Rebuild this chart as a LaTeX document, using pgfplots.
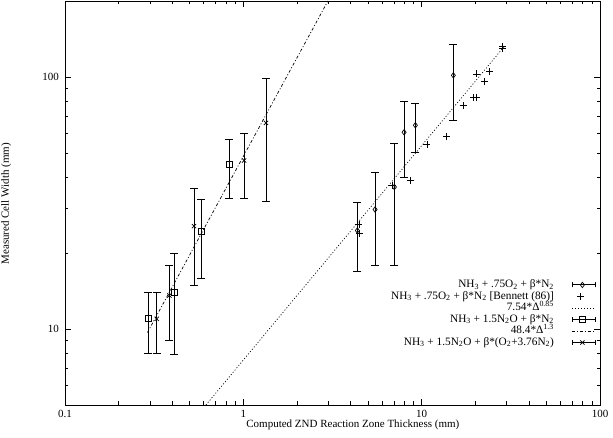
\documentclass[border=0pt]{standalone}
\usepackage{fontspec}
\setmainfont{Liberation Serif}
\usepackage{pgfplots}
\pgfplotsset{compat=1.18}
\usepackage{pgfplotstable}

\pgfplotstableread{
x y ep em
4.36 24.6 7.3 7.6
5.48 29.8 12.1 11.9
7.03 36.6 18.0 18.7
7.97 60.3 19.7 20.4
9.22 64.3 14.5 14.3
15.06 101.4 33.6 34.3
}\sA

\pgfplotstableread{
x y
4.45 26.0
4.48 23.9
6.85 37.1
8.69 38.9
10.7 53.9
13.8 58.0
17.1 76.9
19.5 83.0
20.4 83.0
20.4 102.7
22.5 96.0
24.0 105.0
28.5 132.0
28.5 129.5
}\sB

\pgfplotstableread{
x y ep em
0.293 10.98 3.0 3.0
0.410 13.97 5.9 6.0
0.579 24.5 8.3 8.6
0.835 44.9 11.7 12.0
}\sC

\pgfplotstableread{
x y ep em
0.327 10.98 3.0 3.0
0.385 13.6 4.3 4.6
0.529 25.6 10.4 10.7
1.01 46.6 13.2 13.7
1.34 65.7 33.3 33.6
}\sD

\pgfplotsset{
  ebleg/.style={legend image code/.code={
    \path[draw=none] (0pt,0pt) -- (41pt,0pt);
    \draw[solid,line width=0.8pt] (18pt,0pt) -- (41pt,0pt);
    \draw[solid,line width=0.8pt] (18pt,-2.4pt) -- (18pt,2.4pt) (41pt,-2.4pt) -- (41pt,2.4pt);
    \draw[solid] plot coordinates {(28pt,0pt)};
  }},
  markleg/.style={legend image code/.code={
    \path[draw=none] (0pt,0pt) -- (41pt,0pt);
    \draw[solid] plot coordinates {(26pt,0pt)};
  }},
  lineleg/.style={legend image code/.code={
    \path[draw=none] (0pt,0pt) -- (41pt,0pt);
    \draw (18pt,0pt) -- (41pt,0pt);
  }},
}

\begin{document}
\begin{tikzpicture}
\begin{axis}[
  scale only axis,
  width=535pt, height=404pt,
  xmode=log, ymode=log,
  xmin=0.1, xmax=100, ymin=5, ymax=200,
  xtick={0.1,1,10,100}, xticklabels={0.1,1,10,100},
  ytick={10,100}, yticklabels={10,100},
  minor xtick={0.2,0.3,0.4,0.5,0.6,0.7,0.8,0.9,2,3,4,5,6,7,8,9,20,30,40,50,60,70,80,90},
  minor ytick={6,7,8,9,20,30,40,50,60,70,80,90},
  tick align=inside,
  major tick length=6pt, minor tick length=3.5pt,
  every tick/.style={black, line width=0.6pt},
  axis line style={line width=0.8pt},
  tick label style={font=\fontsize{11}{13}\selectfont},
  xticklabel style={anchor=base, yshift=-13pt},
  yticklabel style={xshift=-2.5pt},
  xlabel={Computed ZND Reaction Zone Thickness (mm)},
  ylabel={Measured Cell Width (mm)},
  label style={font=\fontsize{11}{13}\selectfont},
  xlabel style={at={(axis description cs:0.538,-0.0557)}, anchor=base},
  ylabel style={at={(axis description cs:-0.110,0.498)}, anchor=center, rotate=0},
  legend style={at={(axis description cs:0.9925,0.312)}, anchor=north east,
    draw=none, fill=none, font=\fontsize{11.3}{13}\selectfont,
    inner sep=0pt, row sep=0pt,
    nodes={inner sep=0.5pt, text height=8pt, text depth=2.5pt}},
  legend cell align=right,
  legend plot pos=right,
  error bars/error bar style={line width=0.8pt, solid},
  error bars/error mark options={rotate=90, mark size=4pt, line width=0.8pt, solid},
]
\addplot[black, only marks, mark=diamond, mark size=2.7pt, mark options={line width=0.7pt}, ebleg,
  error bars/.cd, y dir=both, y explicit]
  table[x=x, y=y, y error plus=ep, y error minus=em] {\sA};
\addlegendentry{NH\textsubscript{3} + .75O\textsubscript{2} + β*N\textsubscript{2}}

\addplot[black, only marks, mark=+, mark size=3.5pt, mark options={line width=0.8pt}, markleg] table[x=x,y=y] {\sB};
\addlegendentry{NH\textsubscript{3} + .75O\textsubscript{2} + β*N\textsubscript{2} [Bennett (86)]}

\addplot[black, line width=0.7pt, dash pattern=on 1pt off 2pt, lineleg] coordinates {(0.617,5) (29,131.9)};
\addlegendentry{7.54*Δ\textsuperscript{0.85}}

\addplot[black, only marks, mark=square, mark size=3pt, mark options={line width=0.7pt}, ebleg,
  error bars/.cd, y dir=both, y explicit]
  table[x=x, y=y, y error plus=ep, y error minus=em] {\sC};
\addlegendentry{NH\textsubscript{3} + 1.5N\textsubscript{2}O + β*N\textsubscript{2}}

\addplot[black, line width=0.7pt, dash pattern=on 3pt off 2pt on 1pt off 2pt, lineleg] coordinates {(0.29,9.69) (2.98,200)};
\addlegendentry{48.4*Δ\textsuperscript{1.3}}

\addplot[black, only marks, mark=x, mark size=3pt, mark options={line width=0.7pt}, ebleg,
  error bars/.cd, y dir=both, y explicit]
  table[x=x, y=y, y error plus=ep, y error minus=em] {\sD};
\addlegendentry{NH\textsubscript{3} + 1.5N\textsubscript{2}O + β*(O\textsubscript{2}+3.76N\textsubscript{2})}
\end{axis}
\pgfresetboundingbox
\path (current axis.south west) ++(-65pt,-33pt) rectangle ++(613pt,438pt);
\end{tikzpicture}
\end{document}
